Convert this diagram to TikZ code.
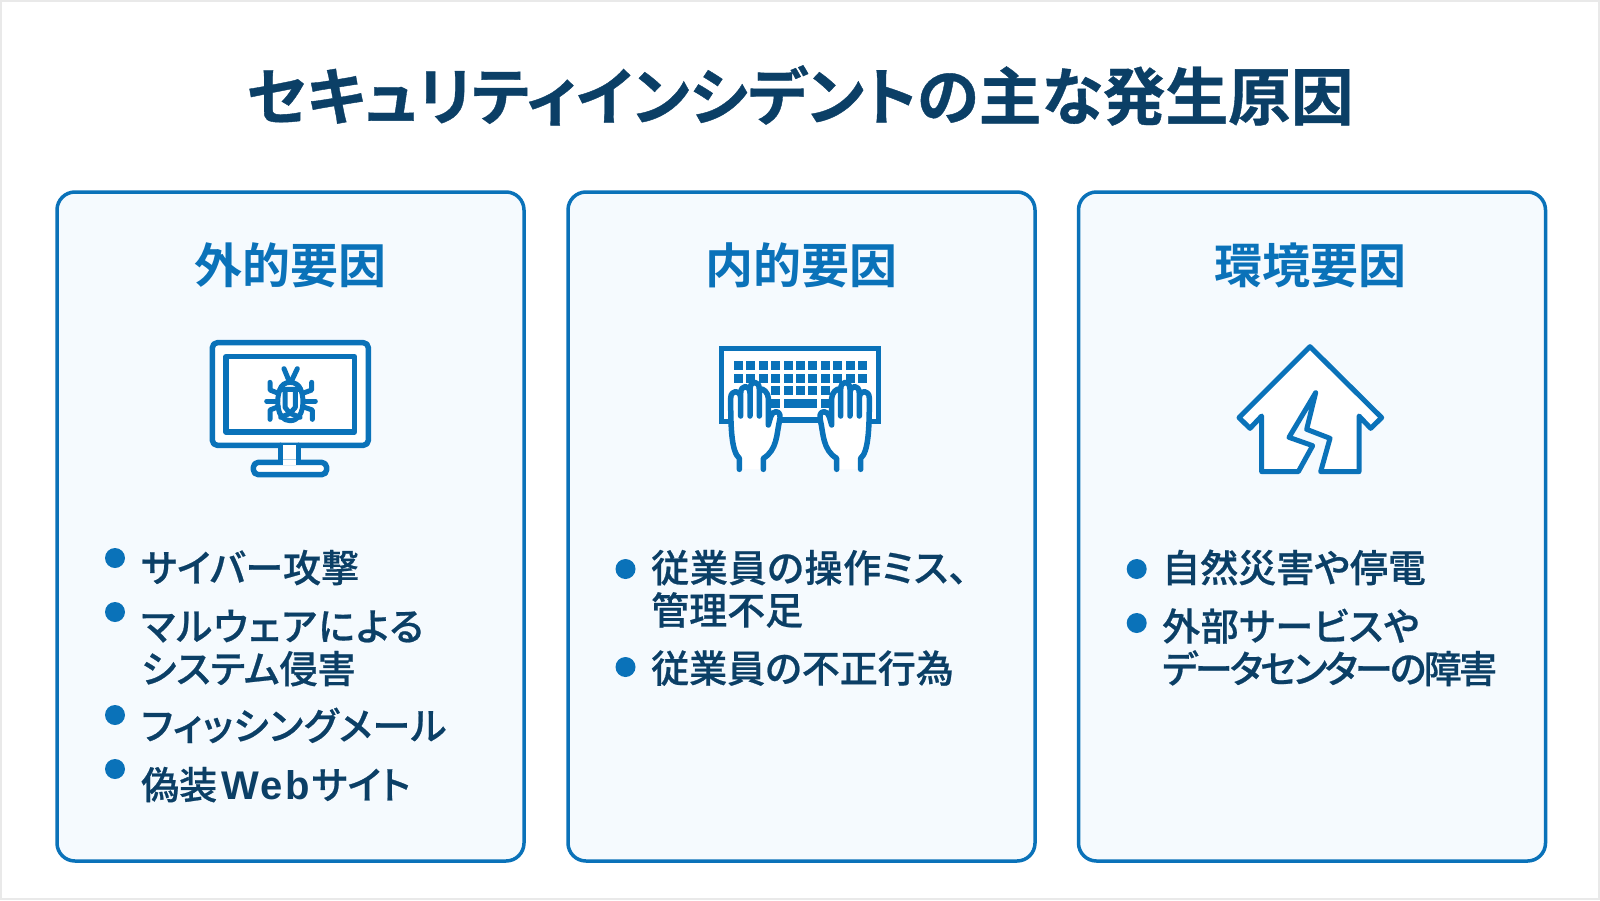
\documentclass[tikz,border=0pt]{standalone}
\usepackage{fontspec}
\setmainfont{Noto Sans CJK JP}[RawFeature={+palt}]
\newfontfamily\titlefont{Noto Sans CJK JP Bold}[RawFeature={+palt},FakeBold=0.6]
\newfontfamily\headfont{Noto Sans CJK JP Bold}[RawFeature={+palt}]
\newfontfamily\itemfont{Noto Sans CJK JP Medium}[RawFeature={+palt},FakeBold=0.6]
\newfontfamily\webfont{Liberation Sans Bold}[LetterSpace=6]
\newcommand{\tracked}[2]{{\addfontfeature{LetterSpace=#1}#2}}
\definecolor{navy}{HTML}{0B3F66}
\definecolor{accent}{HTML}{0A72B9}
\definecolor{panelbg}{HTML}{F5FAFE}
\definecolor{frame}{HTML}{E9E9E9}
\tikzset{
	panel/.style={draw=accent,line width=3.5pt,fill=panelbg,rounded corners=18pt,minimum width=467pt,minimum height=669pt,inner sep=0pt},
	titletext/.style={font=\titlefont\fontsize{62.7}{70}\selectfont,text=navy,inner sep=0pt},
	headtext/.style={font=\headfont\fontsize{48}{54}\selectfont,text=accent,inner sep=0pt},
	itemtext/.style={font=\itemfont\fontsize{38}{42.5}\selectfont,text=navy,inner sep=0pt,anchor=base west,align=left},
	dotmark/.style={circle,fill=accent,minimum size=20pt,inner sep=0pt},
	icon/.style={draw=accent,line width=5.5pt,line join=round,line cap=round},
	bugline/.style={icon,line width=5pt},
	keycap/.style={fill=accent}
}
\begin{document}
\begin{tikzpicture}[x=1pt,y=-1pt]
		\useasboundingbox (0,0) rectangle (1600,900);
		\fill [frame] (0,0) rectangle (1600,900);
		\fill [white] (2,2) rectangle (1598,898);
		\node [titletext] (title) at (800,95.5) {セキュリティインシデントの主な発生原因};
		\foreach \tag/\cx/\hx/\head in {ext/290.5/290.5/外的要因,int/801.5/801/内的要因,env/1312/1310/環境要因} {
			\node [panel] (panel\tag) at (\cx,526.5) {};
			\node [headtext] (head\tag) at (\hx,265) {\head};
		}
		\begin{scope}[shift={(190,330)},scale=1/3]
			\draw [icon,fill=white,rounded corners=5pt] (67,38) rectangle (535,346);
			\draw [icon,fill=white,line cap=butt] (108,80) rectangle (493,306);
			\fill [white] (272,346) rectangle (326,397);
			\draw [icon] (272,346) -- (272,397) (326,346) -- (326,397);
			\draw [icon,fill=white,rounded corners=5pt] (190,397) -- (410,397) -- (410,434) -- (190,434) -- cycle;
			\fill [white] (280,389) rectangle (318,405);
			\draw [bugline] (296,150) -- (282,116) (306,150) -- (322,116);
			\draw [bugline] (270,178) .. controls (278,150) and (322,150) .. (332,178) -- (270,178);
			\draw [bugline] (270,178) .. controls (258,205) and (258,272) .. (300,272) .. controls (344,272) and (344,205) .. (332,178);
			\draw [bugline] (285,178) -- (285,232) -- (300,250) -- (316,232) -- (316,178);
			\draw [bugline] (272,262) -- (300,250) -- (330,262);
			\draw [bugline] (240,157) -- (240,180) -- (265,190) (365,157) -- (365,180) -- (338,190);
			\draw [bugline] (230,213) -- (262,213) (342,213) -- (376,213);
			\draw [bugline] (240,268) -- (240,240) -- (265,230) (367,268) -- (367,240) -- (338,230);
		\end{scope}
		\begin{scope}[shift={(700,330)},scale=1/3]
			\fill [white] (65,55) rectangle (535,275);
			\draw [icon,line cap=butt,line join=miter] (90,275) -- (65,275) -- (65,55) -- (535,55) -- (535,275) -- (510,275);
			\draw [icon,line cap=butt] (235,270) -- (365,270);
			\foreach \col in {0,...,10} {
				\fill [keycap] (101+37.4*\col,94) rectangle +(27,25);
				\fill [keycap] (101+37.4*\col,132) rectangle +(27,26);
			}
			\foreach \col in {3,...,7} {
				\fill [keycap] (101+37.4*\col,169) rectangle +(27,27);
			}
			\fill [keycap] (214,207) rectangle (239,233);
			\fill [keycap] (251,207) rectangle (351,233);
			\fill [keycap] (364,207) rectangle (389,233);
		\end{scope}
		\foreach \s in {1,-1} {
			\begin{scope}[shift={(800,330)},xscale=\s/3,yscale=1/3]
				\draw [icon,fill=white] (-182,418) -- (-182,385) .. controls (-205,365) and (-208,300) .. (-208,205) .. controls (-208,178) and (-178,178) .. (-178,205) -- (-178,258) -- (-178,190) .. controls (-178,163) and (-150,163) .. (-150,190) -- (-150,258) -- (-150,178) .. controls (-150,150) and (-122,150) .. (-122,178) -- (-122,258) -- (-122,178) .. controls (-110,172) and (-95,190) .. (-95,205) -- (-95,285) .. controls (-90,270) and (-88,245) .. (-72,245) .. controls (-58,245) and (-58,262) .. (-62,275) .. controls (-70,310) and (-68,360) .. (-110,385) -- (-110,418);
			\end{scope}
		}
		\begin{scope}[shift={(1210,330)},scale=1/3]
			\draw [icon,line width=5pt,fill=white] (300,50) -- (515,263) -- (482,295) -- (447,258) -- (447,425) -- (332,425) -- (360,325) -- (290,298) -- (317,188) -- (237,322) -- (308,347) -- (265,425) -- (155,425) -- (155,258) -- (120,295) -- (87,263) -- cycle;
		\end{scope}
		\node [dotmark] (dotA) at (115,558) {};
		\node [dotmark] (dotB) at (115,612) {};
		\node [dotmark] (dotC) at (115,715) {};
		\node [dotmark] (dotD) at (115,769) {};
		\node [dotmark] (dotE) at (625.5,569) {};
		\node [dotmark] (dotF) at (625.5,667) {};
		\node [dotmark] (dotG) at (1136.7,569) {};
		\node [dotmark] (dotH) at (1136.7,623) {};
		\node [itemtext] (itemA) at (141,582) {サイバー攻撃};
		\node [itemtext] (itemB) at (141,683) {\tracked{3.5}{マルウェアによる}\\システム侵害};
		\node [itemtext] (itemC) at (141,740) {\tracked{1.8}{フィッシングメール}};
		\node [itemtext] (itemD) at (141,799) {偽装{\webfont\fontsize{40}{42.5}\selectfont\hspace{4pt}Web\hspace{2pt}}サイト};
		\node [itemtext] (itemE) at (651,624.5) {\tracked{1.8}{従業員の操作ミス、}\\管理不足};
		\node [itemtext] (itemF) at (651,682.5) {従業員の不正行為};
		\node [itemtext] (itemG) at (1162,582) {自然災害や停電};
		\node [itemtext] (itemH) at (1162,683) {\tracked{1.4}{外部サービスや}\\\tracked{-7.2}{データセンターの障害}};
\end{tikzpicture}
\end{document}
